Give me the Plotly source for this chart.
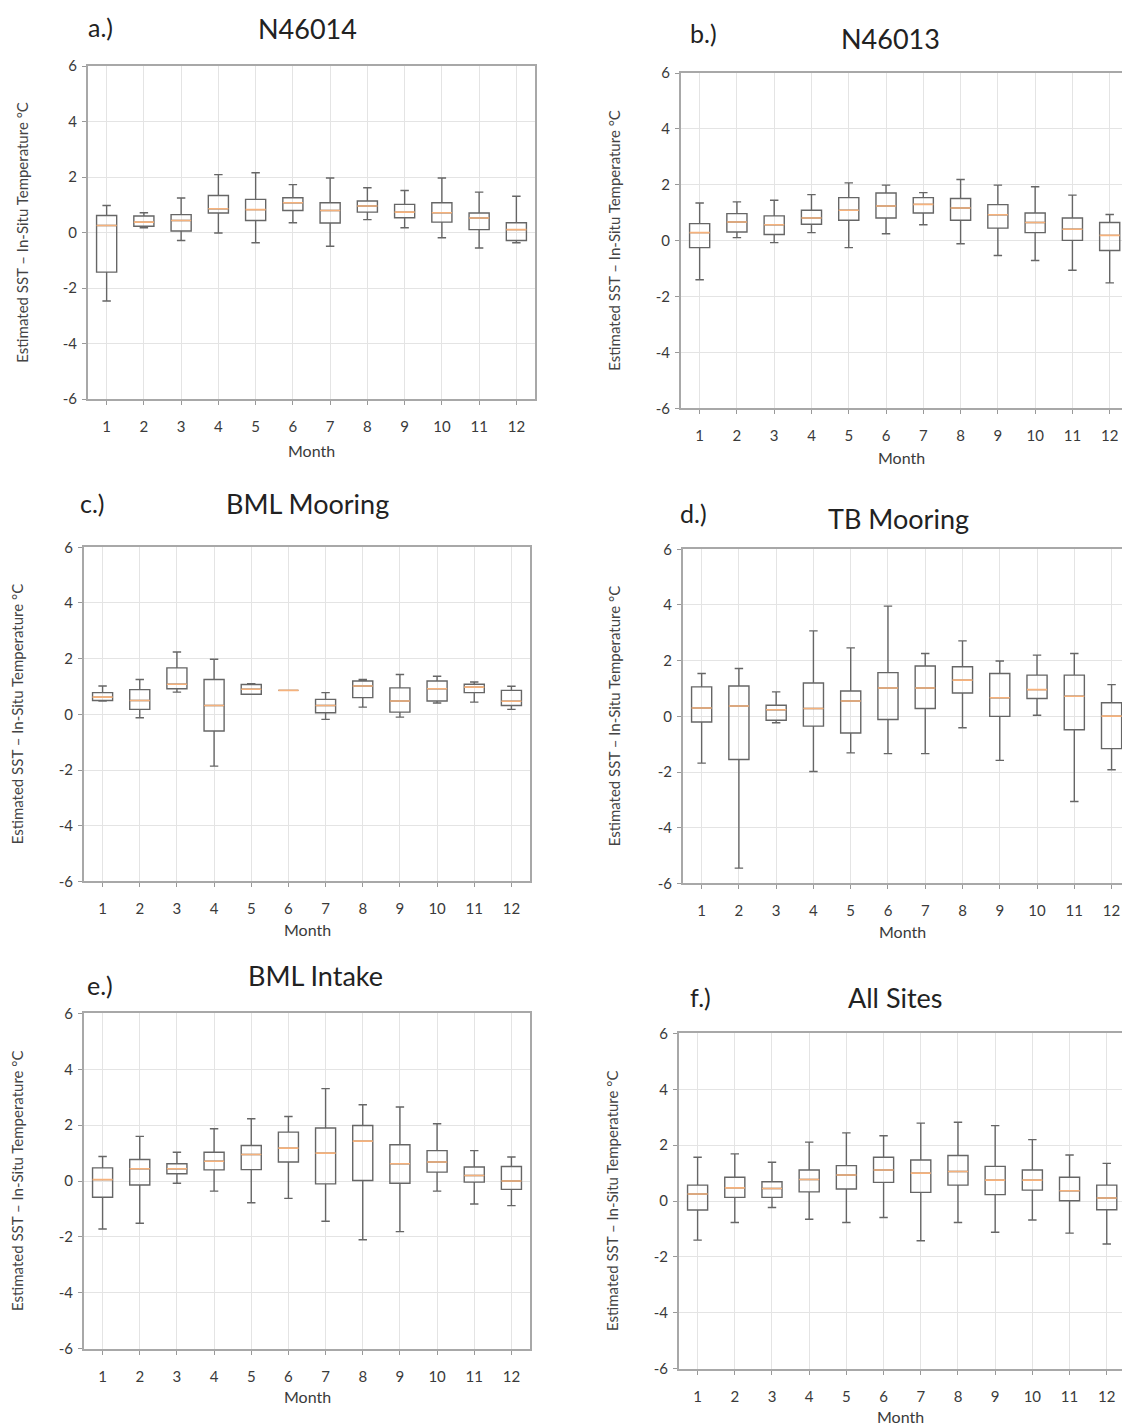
import plotly.graph_objects as go

months = list(range(1, 13))
y_ticks = [-6, -4, -2, 0, 2, 4, 6]

panel_letters = ["a.)", "b.)", "c.)", "d.)", "e.)", "f.)"]
panel_titles = ["N46014", "N46013", "BML Mooring", "TB Mooring", "BML Intake", "All Sites"]

# a.) N46014
a_low = [-2.46, 0.18, -0.28, -0.01, -0.36, 0.36, -0.49, 0.47, 0.18, -0.18, -0.55, -0.36]
a_q1 = [-1.42, 0.23, 0.06, 0.71, 0.44, 0.80, 0.35, 0.74, 0.54, 0.38, 0.11, -0.28]
a_med = [0.26, 0.38, 0.44, 0.86, 0.83, 1.08, 0.80, 0.96, 0.74, 0.72, 0.53, 0.11]
a_q3 = [0.62, 0.60, 0.65, 1.34, 1.20, 1.26, 1.08, 1.14, 1.02, 1.08, 0.71, 0.36]
a_high = [0.98, 0.72, 1.25, 2.09, 2.16, 1.73, 1.97, 1.62, 1.52, 1.97, 1.46, 1.31]

# b.) N46013
b_low = [-1.40, 0.11, -0.07, 0.29, -0.25, 0.25, 0.57, -0.11, -0.53, -0.71, -1.06, -1.51]
b_q1 = [-0.25, 0.31, 0.22, 0.59, 0.73, 0.81, 0.99, 0.73, 0.45, 0.29, 0.01, -0.35]
b_med = [0.29, 0.67, 0.57, 0.81, 1.09, 1.24, 1.30, 1.17, 0.93, 0.65, 0.41, 0.19]
b_q3 = [0.61, 0.97, 0.89, 1.09, 1.54, 1.71, 1.54, 1.51, 1.29, 0.99, 0.81, 0.65]
b_high = [1.35, 1.39, 1.45, 1.65, 2.07, 1.99, 1.72, 2.19, 1.99, 1.93, 1.63, 0.94]

# c.) BML Mooring
c_low = [0.48, -0.12, 0.80, -1.86, 0.72, 0.86, -0.18, 0.26, -0.10, 0.41, 0.44, 0.18]
c_q1 = [0.50, 0.18, 0.92, -0.60, 0.72, 0.86, 0.06, 0.60, 0.08, 0.48, 0.78, 0.32]
c_med = [0.62, 0.50, 1.08, 0.32, 0.90, 0.86, 0.32, 1.02, 0.48, 0.92, 0.98, 0.47]
c_q3 = [0.78, 0.89, 1.67, 1.25, 1.07, 0.86, 0.54, 1.20, 0.95, 1.20, 1.08, 0.86]
c_high = [1.02, 1.25, 2.24, 1.98, 1.10, 0.86, 0.78, 1.25, 1.43, 1.37, 1.16, 1.01]

# d.) TB Mooring
d_low = [-1.68, -5.45, -0.23, -1.98, -1.31, -1.34, -1.34, -0.41, -1.58, 0.04, -3.06, -1.92]
d_q1 = [-0.20, -1.55, -0.14, -0.35, -0.60, -0.11, 0.28, 0.84, 0.00, 0.64, -0.48, -1.16]
d_med = [0.30, 0.37, 0.24, 0.28, 0.55, 1.02, 1.02, 1.30, 0.67, 0.96, 0.72, 0.01]
d_q3 = [1.06, 1.09, 0.40, 1.20, 0.91, 1.57, 1.81, 1.78, 1.54, 1.48, 1.48, 0.49]
d_high = [1.54, 1.72, 0.88, 3.07, 2.46, 3.96, 2.26, 2.71, 1.99, 2.20, 2.26, 1.14]

# e.) BML Intake
e_low = [-1.72, -1.51, -0.08, -0.36, -0.78, -0.62, -1.44, -2.10, -1.81, -0.36, -0.82, -0.88]
e_q1 = [-0.58, -0.14, 0.26, 0.40, 0.41, 0.68, -0.10, 0.02, -0.08, 0.32, -0.04, -0.30]
e_med = [0.05, 0.44, 0.44, 0.71, 0.95, 1.18, 1.00, 1.43, 0.62, 0.68, 0.20, 0.00]
e_q3 = [0.47, 0.77, 0.62, 1.03, 1.27, 1.75, 1.90, 1.99, 1.30, 1.09, 0.50, 0.52]
e_high = [0.88, 1.60, 1.03, 1.87, 2.23, 2.31, 3.31, 2.73, 2.65, 2.05, 1.09, 0.86]

# f.) All Sites
f_low = [-1.40, -0.77, -0.23, -0.65, -0.77, -0.59, -1.42, -0.77, -1.12, -0.68, -1.15, -1.54]
f_q1 = [-0.32, 0.13, 0.13, 0.33, 0.43, 0.67, 0.31, 0.57, 0.23, 0.39, 0.01, -0.31]
f_med = [0.25, 0.47, 0.45, 0.77, 0.93, 1.11, 1.00, 1.06, 0.75, 0.75, 0.37, 0.11]
f_q3 = [0.57, 0.85, 0.69, 1.11, 1.27, 1.57, 1.47, 1.63, 1.24, 1.11, 0.85, 0.57]
f_high = [1.57, 1.69, 1.39, 2.11, 2.44, 2.34, 2.79, 2.82, 2.70, 2.20, 1.65, 1.35]

stats = [
    (a_low, a_q1, a_med, a_q3, a_high),
    (b_low, b_q1, b_med, b_q3, b_high),
    (c_low, c_q1, c_med, c_q3, c_high),
    (d_low, d_q1, d_med, d_q3, d_high),
    (e_low, e_q1, e_med, e_q3, e_high),
    (f_low, f_q1, f_med, f_q3, f_high),
]

W, H = 1122, 1425
# plot-area pixel boxes: (left, right, top, bottom, x_range_max, is_right_panel)
boxes_px = [
    (88, 535, 66, 399, 12.5, False),
    (681, 1122, 73, 408, 12.33, True),
    (84, 530, 547, 881, 12.5, False),
    (683, 1122, 549, 883, 12.28, True),
    (84, 530, 1013, 1348, 12.5, False),
    (679, 1122, 1033, 1368, 12.41, True),
]
# letter (x,y), title (x,y), month label y, ytitle x
labels_px = [
    ((100, 27), (307, 28), 450, 22),
    ((703, 33), (890, 38), 457, 614),
    ((92, 503), (307, 503), 929, 17),
    ((693, 513), (898, 518), 931, 614),
    ((100, 985), (315, 975), 1396, 17),
    ((700, 997), (895, 997), 1416, 612),
]


def fy(py):
    # vertical pixel -> paper fraction (compensates the capture's vertical fit)
    p = (py - 9.9) / 0.987
    return 1 - p / H


FONT = "Lato"
BOX_COLOR = "#666666"
MED_COLOR = "#f6b27c"
GRID = "#e4e4e4"
FRAME = "#a8a8a8"

fig = go.Figure()
annotations = []

for i, ((low, q1, med, q3, high), (l, r, t, b, xmax, right)) in enumerate(zip(stats, boxes_px)):
    n = "" if i == 0 else str(i + 1)
    xa, ya = "x" + n, "y" + n
    fig.add_trace(go.Box(
        x=months, q1=q1, median=med, q3=q3, lowerfence=low, upperfence=high,
        xaxis=xa, yaxis=ya, width=0.54, whiskerwidth=0.42,
        line=dict(color=BOX_COLOR, width=1.4), fillcolor="rgba(0,0,0,0)",
        boxpoints=False, showlegend=False, hoverinfo="skip",
    ))
    fig.add_trace(go.Box(
        x=months, q1=med, median=med, q3=med, lowerfence=med, upperfence=med,
        xaxis=xa, yaxis=ya, width=0.54, whiskerwidth=0,
        line=dict(color=MED_COLOR, width=1.6), fillcolor="rgba(0,0,0,0)",
        boxpoints=False, showlegend=False, hoverinfo="skip",
    ))
    xdom = [l / W, r / W]
    ydom = [max(0.0, fy(b)), min(1.0, fy(t))]
    fig.update_layout(**{
        "xaxis" + n: dict(
            domain=xdom, anchor=ya, range=[0.5, xmax], tickmode="array",
            tickvals=months, ticktext=[str(m) for m in months],
            showgrid=True, gridcolor=GRID, gridwidth=1, zeroline=False,
            showline=True, linecolor=FRAME, linewidth=2, mirror=True,
            ticks="outside", ticklen=4, tickcolor="#999999",
            ticklabelstandoff=9,
            tickfont=dict(family=FONT, size=15, color="#3a3a3a"),
        ),
        "yaxis" + n: dict(
            domain=ydom, anchor=xa, range=[-6, 6], tickmode="array",
            tickvals=y_ticks, ticktext=[str(v) for v in y_ticks],
            showgrid=True, gridcolor=GRID, gridwidth=1, zeroline=False,
            showline=True, linecolor=FRAME, linewidth=2,
            mirror=(not right),
            ticks="outside", ticklen=4, tickcolor="#999999",
            ticklabelstandoff=2,
            tickfont=dict(family=FONT, size=15, color="#3a3a3a"),
        ),
    })
    (lx, ly), (tx, ty), my, ytx = labels_px[i]
    annotations.append(dict(text=panel_letters[i], x=lx / W, y=fy(ly), xref="paper", yref="paper",
                            showarrow=False, xanchor="center", yanchor="middle",
                            font=dict(family=FONT, size=25, color="#222222")))
    annotations.append(dict(text=panel_titles[i], x=tx / W, y=fy(ty), xref="paper", yref="paper",
                            showarrow=False, xanchor="center", yanchor="middle",
                            font=dict(family=FONT, size=27, color="#222222")))
    annotations.append(dict(text="Month", x=(l + min(r, l + 447)) / 2 / W, y=fy(my),
                            xref="paper", yref="paper", showarrow=False,
                            xanchor="center", yanchor="middle",
                            font=dict(family=FONT, size=16, color="#3a3a3a")))
    annotations.append(dict(text="Estimated SST \u2013 In-Situ Temperature \u00b0C", x=ytx / W,
                            y=fy((t + b) / 2), xref="paper", yref="paper",
                            showarrow=False, textangle=-90, xanchor="center", yanchor="middle",
                            font=dict(family=FONT, size=15, color="#444444")))

fig.update_layout(
    width=W, height=H, margin=dict(l=0, r=0, t=0, b=0),
    paper_bgcolor="white", plot_bgcolor="white",
    boxmode="overlay", annotations=annotations,
)

fig.write_html(
    "out.html",
    config={"displayModeBar": False},
    post_script="document.body.style.margin='0px';document.body.style.padding='0px';"
                "document.body.style.overflow='hidden';",
)
